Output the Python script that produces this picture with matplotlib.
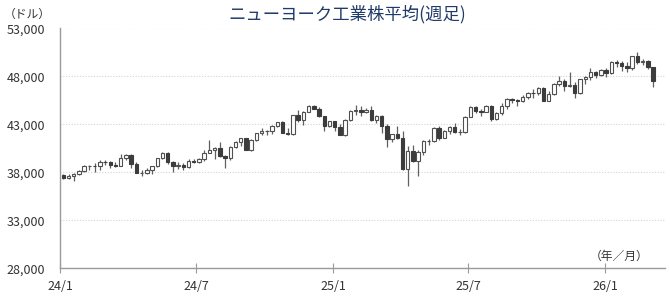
import numpy as np
import pandas as pd
import matplotlib
matplotlib.use("Agg")
import matplotlib.pyplot as plt

plt.rcParams['font.family'] = ['Noto Sans CJK JP', 'DejaVu Sans']

title = "ニューヨーク工業株平均(週足)"

# weekly candles, week ending Friday, 2024/1/5 .. 2026/3/6
first_prev_close = 37690
closes = [37466, 37593, 37863, 38109, 38654, 38671, 38628, 39131, 39087, 38723,
          38715, 39475, 39807, 38904, 37983, 37986, 38240, 38676, 39513, 40004,
          39070, 38686, 38799, 38589, 39150, 39119, 39376, 40001, 40288, 40590,
          39737, 39497, 40660, 41175, 41563, 40345, 41394, 42063, 42313, 42353,
          42864, 43276, 42114, 42052, 43989, 43445, 44297, 44911, 44643, 43828,
          42840, 43326,
          42732, 41938, 43488, 44424, 44545, 44303, 44546, 43428, 43841, 42802,
          41488, 41985, 41583, 38315, 40212, 39142, 40114, 41317, 41249, 42655,
          41603, 42270, 42763, 42198, 42207, 43819, 44829, 44372, 44342, 44902,
          43589, 44176, 44946, 45632, 45545, 45401, 45834, 46315, 46247, 46758,
          45480, 46191, 47207, 47563, 46987, 47147, 46245, 47716, 47955, 48458,
          48135, 48711,
          48382, 49504, 49359, 49098, 48892, 50116, 49501, 49626, 48978, 47502]
highs = [37790, 37790, 37900, 38200, 38790, 38800, 38930, 39280, 39280, 39150,
         39100, 39890, 39900, 39900, 39100, 38200, 38450, 38700, 39550, 40080,
         40080, 39200, 39100, 39000, 39350, 39400, 39500, 40300, 41376, 40650,
         41200, 39800, 40700, 41300, 41600, 41600, 41450, 42150, 42630, 42400,
         42900, 43300, 43330, 42600, 44000, 44490, 44400, 45000, 45070, 44800,
         43900, 43400,
         43400, 43000, 43600, 44500, 45050, 44900, 44750, 44900, 44000, 44000,
         43000, 42000, 42800, 42300, 40800, 40900, 40300, 41400, 41500, 42700,
         42800, 42400, 42800, 43100, 42500, 43850, 44900, 44900, 44600, 45050,
         45000, 44300, 45200, 45760, 45800, 45700, 46100, 46400, 46700, 46900,
         46900, 46500, 47300, 48040, 47700, 48430, 47400, 47750, 48100, 48890,
         48600, 48800,
         48900, 49600, 49700, 49600, 49500, 50150, 50500, 49800, 49700, 49000]
lows = [37260, 37300, 37120, 37700, 38000, 38300, 38000, 38300, 38800, 38500,
        38600, 38700, 39300, 38500, 37900, 37600, 37800, 37800, 38600, 39400,
        38900, 38000, 38400, 38300, 38500, 38950, 38950, 39200, 40000, 39400,
        39600, 38500, 39300, 40500, 40800, 40300, 40200, 41300, 41900, 41900,
        41950, 42700, 42100, 41900, 41900, 43300, 42900, 44250, 44600, 43800,
        42300, 42700,
        42300, 41850, 41840, 43400, 44000, 43900, 44150, 43400, 43100, 42100,
        40660, 41200, 41500, 38300, 36612, 39100, 37600, 39800, 40900, 41200,
        41400, 41600, 42000, 42100, 41900, 42100, 43800, 44200, 43900, 44300,
        43400, 43500, 44000, 44600, 45200, 44900, 45300, 45600, 45800, 46100,
        45400, 45400, 46100, 47000, 46500, 46900, 45730, 46200, 47200, 47600,
        47800, 48100,
        47900, 48300, 49000, 48600, 48500, 48700, 49300, 49200, 48800, 46900]
opens = [first_prev_close] + closes[:-1]

dates = pd.date_range("2024-01-05", periods=len(closes), freq="W-FRI")

y_ticks = [28000, 33000, 38000, 43000, 48000, 53000]
x_ticks = ["2024-01-01", "2024-07-01", "2025-01-01", "2025-07-01", "2026-01-01"]
x_tick_labels = ["24/1", "24/7", "25/1", "25/7", "26/1"]

# %%
fig = plt.figure(figsize=(6.7, 2.97), dpi=100)
ax = fig.add_axes([60.3 / 670, 1 - 268.3 / 297, (665 - 60.3) / 670, (268.3 - 28.5) / 297])

o = np.array(opens)
c = np.array(closes)
up = c >= o
edge = "#505050"

ax.vlines(dates, lows, highs, color="#606060", linewidth=0.9, zorder=2)
ax.bar(dates[up], (c - o)[up], bottom=o[up], width=4.6, color="white",
       edgecolor=edge, linewidth=0.8, zorder=3)
ax.bar(dates[~up], (o - c)[~up], bottom=c[~up], width=4.6, color="#3c3c3c",
       edgecolor="#3c3c3c", linewidth=0.8, zorder=3)

ax.set_xlim(pd.Timestamp("2024-01-01"), pd.Timestamp("2026-03-22"))
ax.set_ylim(28000, 53000)
ax.set_yticks(y_ticks)
ax.set_yticklabels([f"{v:,}" for v in y_ticks])
ax.set_xticks([pd.Timestamp(d) for d in x_ticks])
ax.set_xticklabels(x_tick_labels)

ax.grid(axis="y", linestyle=(0, (1, 1.5)), color="#d4d4d4", linewidth=0.8)
ax.set_axisbelow(True)
for side in ["top", "right"]:
    ax.spines[side].set_visible(False)
for side in ["left", "bottom"]:
    ax.spines[side].set_color("#9a9a9a")
    ax.spines[side].set_linewidth(1.0)

ax.tick_params(axis="y", length=0, pad=11, labelsize=9, labelcolor="#333333")
ax.tick_params(axis="x", direction="inout", length=7, color="#9a9a9a",
               pad=5, labelsize=9, labelcolor="#333333")

fig.text(347 / 670, 1 - 14 / 297, title, ha="center", va="center",
         fontsize=12.5, color="#1f3a68")
fig.text(4 / 670, 1 - 14 / 297, "（ドル）", ha="left", va="center",
         fontsize=8.5, color="#333333")
fig.text(648 / 670, 1 - 256 / 297, "（年／月）", ha="right", va="center",
         fontsize=8.5, color="#333333")

fig.savefig("out.png", dpi=100)
